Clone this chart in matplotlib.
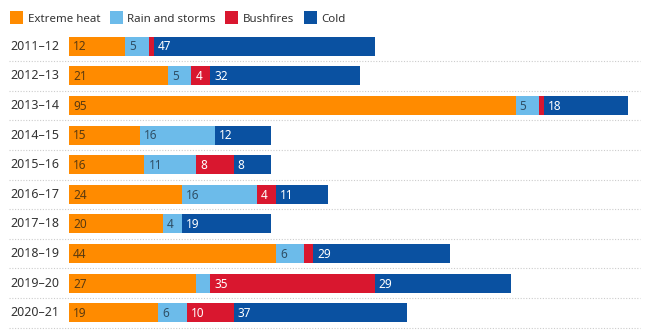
import matplotlib
matplotlib.use("Agg")
import matplotlib.pyplot as plt
from matplotlib.patches import Patch

plt.rcParams['font.family'] = ['Noto Sans', 'DejaVu Sans']

years = ["2011–12", "2012–13", "2013–14", "2014–15", "2015–16",
         "2016–17", "2017–18", "2018–19", "2019–20", "2020–21"]
extreme_heat = [12, 21, 95, 15, 16, 24, 20, 44, 27, 19]
rain_storms = [5, 5, 5, 16, 11, 16, 4, 6, 3, 6]
bushfires = [1, 4, 1, 0, 8, 4, 0, 2, 35, 10]
cold = [47, 32, 18, 12, 8, 11, 19, 29, 29, 37]

series = ["Extreme heat", "Rain and storms", "Bushfires", "Cold"]
colors = ["#ff8b00", "#6cbbea", "#d9172f", "#0a51a1"]
label_colors = ["#5a3a10", "#2f4f66", "white", "white"]

W, H = 650, 331
fig = plt.figure(figsize=(W / 100, H / 100), dpi=100)
scale = 4.7  # px per unit
x0 = 69
ax_left, ax_right = 8, 640
ax_top, ax_bot = 31.2, 327.8
ax = fig.add_axes([ax_left / W, 1 - ax_bot / H, (ax_right - ax_left) / W, (ax_bot - ax_top) / H])
ax.set_xlim(-(x0 - ax_left) / scale, (ax_right - x0) / scale)
ax.set_ylim(len(years) - 0.5, -0.5)
ax.axis("off")

data = [extreme_heat, rain_storms, bushfires, cold]
for i, yr in enumerate(years):
    left = 0
    for s, vals in enumerate(data):
        v = vals[i]
        if v > 0:
            ax.barh(i, v, left=left, height=0.64, color=colors[s], linewidth=0)
            if v >= 4:
                ax.text(left + 0.9, i + 0.03, str(v), va="center", ha="left",
                        fontsize=8.5, color=label_colors[s])
        left += v
    ax.text(-2.0, i, yr, va="center", ha="right", fontsize=9, color="#333333")
    ax.plot([-(x0 - ax_left) / scale + 0.3, (ax_right - x0) / scale], [i + 0.5, i + 0.5],
            color="#cccccc", linestyle=(0, (1, 1.5)), linewidth=0.8, clip_on=False)

handles = [Patch(facecolor=c, edgecolor="none") for c in colors]
fig.legend(handles, series, loc="upper left", bbox_to_anchor=(0.003, 0.99), ncol=4,
           frameon=False, fontsize=8.3, handlelength=1.15, handleheight=1.35,
           handletextpad=0.4, columnspacing=0.8, borderaxespad=0.3,
           labelcolor="#333333")

fig.savefig("out.png", dpi=100)
